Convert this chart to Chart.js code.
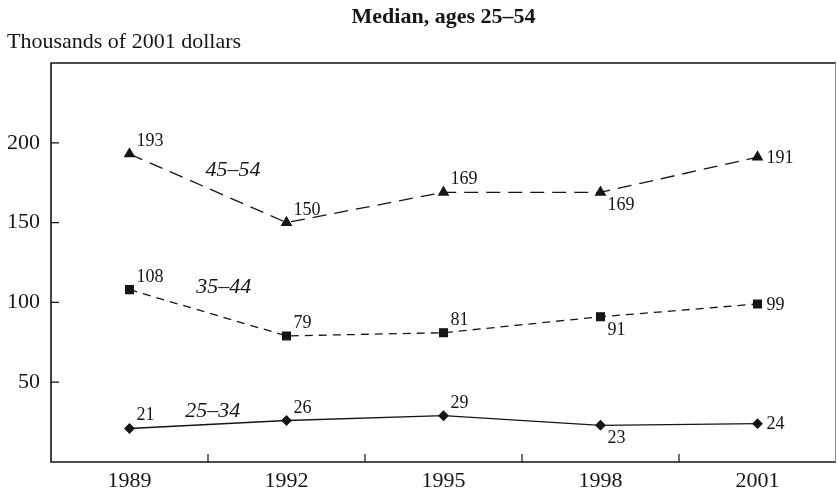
<!DOCTYPE html>
<html>
<head>
<meta charset="utf-8">
<script src="https://cdn.jsdelivr.net/npm/chart.js@4.4.0/dist/chart.umd.min.js"></script>
<style>
  html, body { margin: 0; padding: 0; background: #fff; }
</style>
</head>
<body>
<canvas id="graphique" width="837" height="495"></canvas>
<script>
const years = ['1989', '1992', '1995', '1998', '2001'];
const ages45 = [193, 150, 169, 169, 191];
const ages35 = [108, 79, 81, 91, 99];
const ages25 = [21, 26, 29, 23, 24];
const yTicks = [50, 100, 150, 200];
const seriesNames = ['45–54', '35–44', '25–34'];

// where the value label goes next to each point: above-right, below-right, right
const labelSide = ['ar', 'ar', 'ar', 'br', 'r'];
// series name anchors, in data units (category index, value)
const nameAt = [[0.66, 179], [0.6, 106], [0.53, 28]];

const SERIF = '"Liberation Serif", "Times New Roman", serif';
const INK = '#151515';

const decor = {
   id: 'decor',
   afterDraw(chart) {
      const c = chart.ctx;
      const a = chart.chartArea;
      const xs = chart.scales.x, ys = chart.scales.y;
      c.save();

      // frame
      c.strokeStyle = INK;
      c.lineWidth = 1.6;
      c.beginPath();
      c.moveTo(a.right, a.top);
      c.lineTo(a.left, a.top);
      c.lineTo(a.left, a.bottom);
      c.lineTo(a.right, a.bottom);
      c.stroke();
      c.strokeStyle = '#888';
      c.lineWidth = 1;
      c.beginPath();
      c.moveTo(a.right - 0.5, a.top);
      c.lineTo(a.right - 0.5, a.bottom);
      c.stroke();

      // inner tick marks
      c.strokeStyle = INK;
      c.lineWidth = 1.2;
      c.beginPath();
      yTicks.forEach(v => {
         const y = ys.getPixelForValue(v);
         c.moveTo(a.left, y);
         c.lineTo(a.left + 8, y);
      });
      for (let i = 0; i < years.length - 1; i++) {
         const x = xs.getPixelForValue(i + 0.5);
         c.moveTo(x, a.bottom);
         c.lineTo(x, a.bottom - 8);
      }
      c.stroke();

      // value labels
      c.fillStyle = INK;
      c.font = '18px ' + SERIF;
      c.textAlign = 'left';
      chart.data.datasets.forEach((ds, d) => {
         chart.getDatasetMeta(d).data.forEach((pt, i) => {
            const txt = String(ds.data[i]);
            const side = labelSide[i];
            if (side === 'ar') {
               c.textBaseline = 'alphabetic';
               c.fillText(txt, pt.x + 7, pt.y - 8);
            } else if (side === 'br') {
               c.textBaseline = 'alphabetic';
               c.fillText(txt, pt.x + 7, pt.y + 18);
            } else {
               c.textBaseline = 'middle';
               c.fillText(txt, pt.x + 9, pt.y + 1);
            }
         });
      });

      // series names
      c.font = 'italic 22px ' + SERIF;
      c.textAlign = 'center';
      c.textBaseline = 'alphabetic';
      seriesNames.forEach((n, k) => {
         c.fillText(n, xs.getPixelForValue(nameAt[k][0]), ys.getPixelForValue(nameAt[k][1]));
      });

      // title and unit
      c.font = 'bold 22px ' + SERIF;
      c.fillText('Median, ages 25–54', (a.left + a.right) / 2, 23);
      c.font = '22px ' + SERIF;
      c.textAlign = 'left';
      c.fillText('Thousands of 2001 dollars', 7, 48);

      c.restore();
   }
};

const ctx = document.getElementById('graphique');

const myChart = new Chart(ctx, {
   type: 'line',
   data: {
      labels: years,
      datasets: [{
         label: seriesNames[0],
         data: ages45,
         borderColor: INK,
         backgroundColor: INK,
         borderWidth: 1.3,
         borderDash: [14, 8],
         pointStyle: 'triangle',
         pointRadius: 5.5,
         tension: 0
      }, {
         label: seriesNames[1],
         data: ages35,
         borderColor: INK,
         backgroundColor: INK,
         borderWidth: 1.3,
         borderDash: [8, 6],
         pointStyle: 'rect',
         pointRadius: 5.5,
         tension: 0
      }, {
         label: seriesNames[2],
         data: ages25,
         borderColor: INK,
         backgroundColor: INK,
         borderWidth: 1.3,
         pointStyle: 'rectRot',
         pointRadius: 4.5,
         tension: 0
      }]
   },
   options: {
      responsive: false,
      animation: false,
      devicePixelRatio: 1,
      layout: {
         autoPadding: false,
         padding: { top: 63, right: 1, left: 0, bottom: 0 }
      },
      scales: {
         x: {
            offset: true,
            grid: { display: false, drawTicks: false },
            border: { display: false },
            ticks: {
               color: INK,
               font: { family: SERIF, size: 22 },
               padding: 6,
               maxRotation: 0
            },
            afterFit: s => { s.height = 33; }
         },
         y: {
            min: 0,
            max: 250,
            grid: { display: false, drawTicks: false },
            border: { display: false },
            afterBuildTicks: s => { s.ticks = yTicks.map(v => ({ value: v })); },
            ticks: {
               color: INK,
               font: { family: SERIF, size: 22 },
               padding: 11
            },
            afterFit: s => { s.width = 51; }
         }
      },
      plugins: {
         legend: { display: false },
         tooltip: { enabled: false }
      }
   },
   plugins: [decor]
});
</script>
</body>
</html>
